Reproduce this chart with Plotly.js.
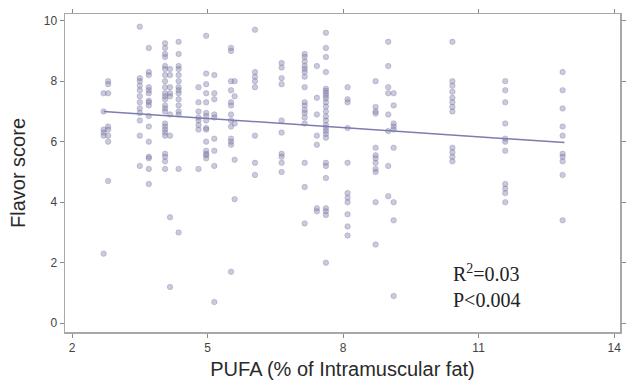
<!DOCTYPE html>
<html>
<head>
<meta charset="utf-8">
<script src="https://cdn.plot.ly/plotly-3.0.1.min.js"></script>
<style>html,body{margin:0;padding:0;background:#fff;}#chart{width:632px;height:385px;}</style>
</head>
<body>
<div id="chart"></div>
<script>
// PUFA levels (% of intramuscular fat) at which flavor scores were observed
const pufaLevels = [2.7, 2.8, 3.5, 3.7, 4.06, 4.17, 4.36, 4.8, 4.97, 5.15, 5.52, 5.6,
                    6.05, 6.64, 7.15, 7.42, 7.62, 8.1, 8.72, 9.0, 9.12, 10.42, 11.59, 12.86];
// Flavor scores for each PUFA level (same order)
const flavorScores = [
  [7.6, 7.0, 6.4, 6.3, 6.2, 2.3],
  [8.0, 7.9, 7.6, 6.5, 6.4, 6.2, 6.0, 4.7],
  [9.8, 8.1, 8.0, 7.85, 7.7, 7.5, 7.3, 7.1, 6.95, 6.7, 6.2, 5.2],
  [9.1, 8.3, 8.2, 7.8, 7.7, 7.6, 7.35, 7.3, 7.2, 6.85, 6.5, 6.0, 5.5, 5.45, 5.1, 4.6],
  [9.25, 9.1, 8.9, 8.8, 8.5, 8.4, 8.2, 8.0, 7.8, 7.6, 7.5, 7.4, 7.2, 7.1, 7.0, 6.6, 6.5, 6.4, 6.3, 6.2, 5.6, 5.5, 5.35, 5.1],
  [8.4, 8.2, 7.8, 7.6, 7.5, 6.9, 6.2, 3.5, 1.2],
  [9.3, 8.9, 8.5, 8.4, 8.2, 8.0, 7.8, 7.7, 7.6, 7.4, 7.2, 7.0, 6.9, 5.1, 3.0],
  [7.8, 7.3, 7.0, 6.8, 6.7, 6.55, 6.4, 5.1],
  [9.5, 8.25, 7.9, 7.6, 7.3, 6.95, 6.85, 6.7, 6.45, 6.4, 6.0, 5.7, 5.6, 5.55, 5.45],
  [8.2, 7.6, 7.4, 6.9, 6.8, 6.1, 5.7, 5.2, 0.7],
  [9.1, 9.0, 8.0, 7.7, 7.3, 7.2, 6.9, 6.7, 6.5, 6.1, 6.0, 5.9, 1.7],
  [8.0, 7.5, 6.6, 5.4, 4.1],
  [9.7, 8.3, 8.15, 8.0, 7.8, 6.2, 5.3, 4.9],
  [8.6, 8.45, 8.1, 7.9, 6.7, 6.3, 5.6, 5.5, 5.3, 5.0],
  [8.9, 8.8, 8.65, 8.5, 8.4, 8.3, 8.15, 7.8, 7.3, 7.2, 7.05, 6.95, 6.8, 6.6, 5.3, 4.5, 3.3],
  [8.5, 7.45, 6.9, 6.2, 5.9, 3.8, 3.7],
  [9.6, 9.1, 8.8, 8.3, 7.75, 7.68, 7.6, 7.52, 7.43, 7.3, 7.16, 7.0, 6.83, 6.7, 6.55, 6.45, 6.35, 6.25, 6.13, 5.3, 5.2, 4.8, 3.8, 3.7, 3.58, 2.0],
  [7.8, 7.4, 7.3, 6.45, 5.3, 4.3, 4.15, 4.0, 3.6, 3.2, 2.9],
  [8.0, 7.15, 7.0, 6.93, 5.8, 5.55, 5.45, 5.3, 5.1, 5.0, 4.0, 2.6],
  [9.3, 8.5, 7.8, 7.6, 6.9, 6.35, 5.2, 4.2],
  [7.6, 7.2, 6.6, 6.5, 6.4, 5.8, 4.0, 3.4, 0.9],
  [9.3, 8.0, 7.85, 7.65, 7.45, 7.3, 7.15, 7.0, 5.8, 5.65, 5.5, 5.35],
  [8.0, 7.7, 7.3, 6.6, 6.1, 6.0, 5.7, 4.6, 4.45, 4.3, 4.0],
  [8.3, 7.7, 7.1, 6.5, 6.2, 5.6, 5.5, 5.35, 4.9, 3.4]
];
// Regression line end points
const fitX = [2.7, 12.9];
const fitY = [7.0, 5.97];
const xTicks = [2, 5, 8, 11, 14];
const yTicks = [0, 2, 4, 6, 8, 10];
const statsText = ['R<sup>2</sup>=0.03', 'P<0.004'];

const xs = [], ys = [];
pufaLevels.forEach((p, i) => flavorScores[i].forEach(v => { xs.push(p); ys.push(v); }));

const traces = [
  {
    x: xs, y: ys, type: 'scatter', mode: 'markers',
    marker: {size: 5.5, color: 'rgba(128,128,172,0.42)', line: {width: 0.6, color: 'rgba(100,100,150,0.45)'}},
    hoverinfo: 'skip'
  },
  {
    x: fitX, y: fitY, type: 'scatter', mode: 'lines',
    line: {color: '#7c7cb0', width: 1.5}, hoverinfo: 'skip'
  }
];

const axisCommon = {
  showgrid: false, zeroline: false, showline: true, linecolor: '#a8a8a8', linewidth: 1.5,
  mirror: 'ticks', ticks: 'outside', ticklen: 4, tickcolor: '#888', tickwidth: 1,
  tickfont: {family: 'Liberation Sans, Arial, sans-serif', size: 12, color: '#444'}
};

const layout = {
  width: 632, height: 385,
  margin: {l: 65, r: 12, t: 14, b: 53},
  paper_bgcolor: '#fff', plot_bgcolor: '#fff',
  showlegend: false,
  font: {family: 'Liberation Sans, Arial, sans-serif', color: '#333'},
  xaxis: Object.assign({}, axisCommon, {
    range: [1.845, 14.13], tickvals: xTicks, ticktext: xTicks.map(String),
    title: {text: 'PUFA (% of Intramuscular fat)', font: {size: 20, color: '#2a2a2a'}, standoff: 8}
  }),
  yaxis: Object.assign({}, axisCommon, {
    range: [-0.29, 10.22], tickvals: yTicks, ticktext: yTicks.map(String),
    title: {text: 'Flavor score', font: {size: 20, color: '#2a2a2a'}, standoff: 12}
  }),
  annotations: statsText.map((t, i) => ({
    x: 10.4, y: [1.66, 0.77][i], xref: 'x', yref: 'y', xanchor: 'left', yanchor: 'middle',
    text: t, showarrow: false,
    font: {family: 'Liberation Serif, Times New Roman, serif', size: 20, color: '#222'}
  }))
};

Plotly.newPlot('chart', traces, layout, {displayModeBar: false, staticPlot: true});
</script>
</body>
</html>
